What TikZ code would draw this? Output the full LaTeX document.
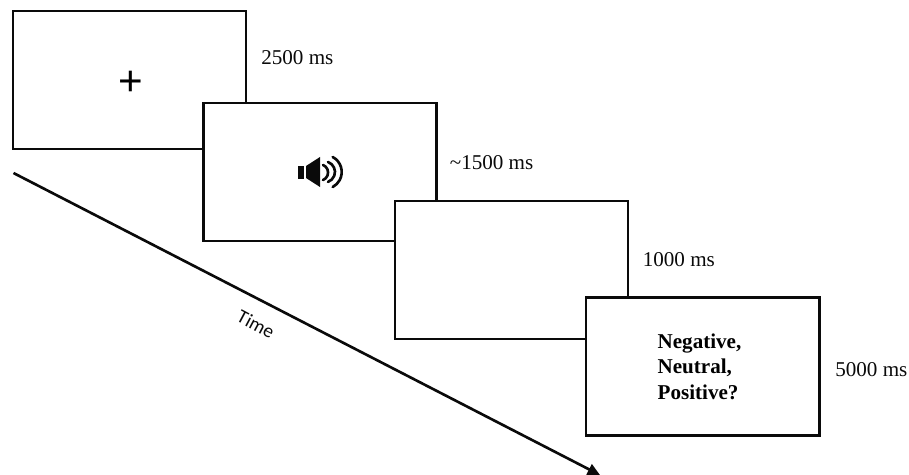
\documentclass[tikz,border=0pt]{standalone}
\usepackage{fontspec}
\setmainfont{Liberation Serif}
\newfontfamily\timefont{Carlito}
\newfontfamily\plusfont{Liberation Sans}
\usepackage{xcolor}
\usetikzlibrary{arrows.meta, positioning, calc}
\definecolor{inkblack}{RGB}{10, 10, 10}

\begin{document}
\begin{tikzpicture}[
    trialbox/.style={
        rectangle,
        draw=inkblack,
        line width=1.7pt,
        fill=white,
        minimum width=4.66cm,
        minimum height=2.76cm,
        inner sep=0pt,
        align=left
    },
    durlabel/.style={
        font=\fontsize{12}{14}\selectfont,
        text=inkblack,
        inner sep=0pt
    },
    arrow/.style={
        -{Triangle[length=7pt,width=6.5pt]},
        line width=1.5pt,
        draw=inkblack
    },
    speakerpart/.style={
        line width=1.5pt,
        draw=inkblack,
        line cap=round
    }
]

    \useasboundingbox (0,0) rectangle (18.18,-9.5);

    % Stimulus screens, back to front
    \node[trialbox] (fixation) at (2.59,-1.6) {};
    \node[trialbox] (sound) at (6.405,-3.44) {};
    \node[trialbox] (blank) at (10.23,-5.4) {};
    \node[trialbox, font=\fontsize{12}{14.5}\selectfont\bfseries] (rating) at (14.05,-7.33) {
        \hspace*{-0.12cm}Negative,\\
        \hspace*{-0.12cm}Neutral,\\
        \hspace*{-0.12cm}Positive?
    };

    % Screen contents
    \node[font=\plusfont\fontsize{24}{24}\selectfont, inner sep=0pt] (plus) at (2.61,-1.67) {+};

    % Speaker icon
    \fill[inkblack] (5.95,-3.32) rectangle (6.08,-3.58);
    \fill[inkblack] (6.12,-3.32) -- (6.4,-3.14) -- (6.4,-3.74) -- (6.12,-3.56) -- cycle;
    \draw[speakerpart] (6.46,-3.3) arc[start angle=68, end angle=-68, radius=0.162];
    \draw[speakerpart] (6.56,-3.24) arc[start angle=70, end angle=-70, radius=0.212];
    \draw[speakerpart] (6.654,-3.14) arc[start angle=62, end angle=-62, radius=0.34];

    % Durations
    \node[durlabel, anchor=west] (dur1) at (5.22,-1.16) {2500 ms};
    \node[durlabel, anchor=west] (dur2) at (8.99,-3.26) {\textasciitilde1500 ms};
    \node[durlabel, anchor=west] (dur3) at (12.85,-5.2) {1000 ms};
    \node[durlabel, anchor=west] (dur4) at (16.7,-7.4) {5000 ms};

    % Time axis
    \coordinate (timestart) at (0.27,-3.46);
    \coordinate (timeend) at (12,-9.5);
    \draw[arrow] (timestart) -- (timeend);
    \node[font=\timefont\fontsize{11}{13}\selectfont, rotate=-28, text=inkblack] (timelabel) at (5.12,-6.48) {Time};

\end{tikzpicture}
\end{document}
